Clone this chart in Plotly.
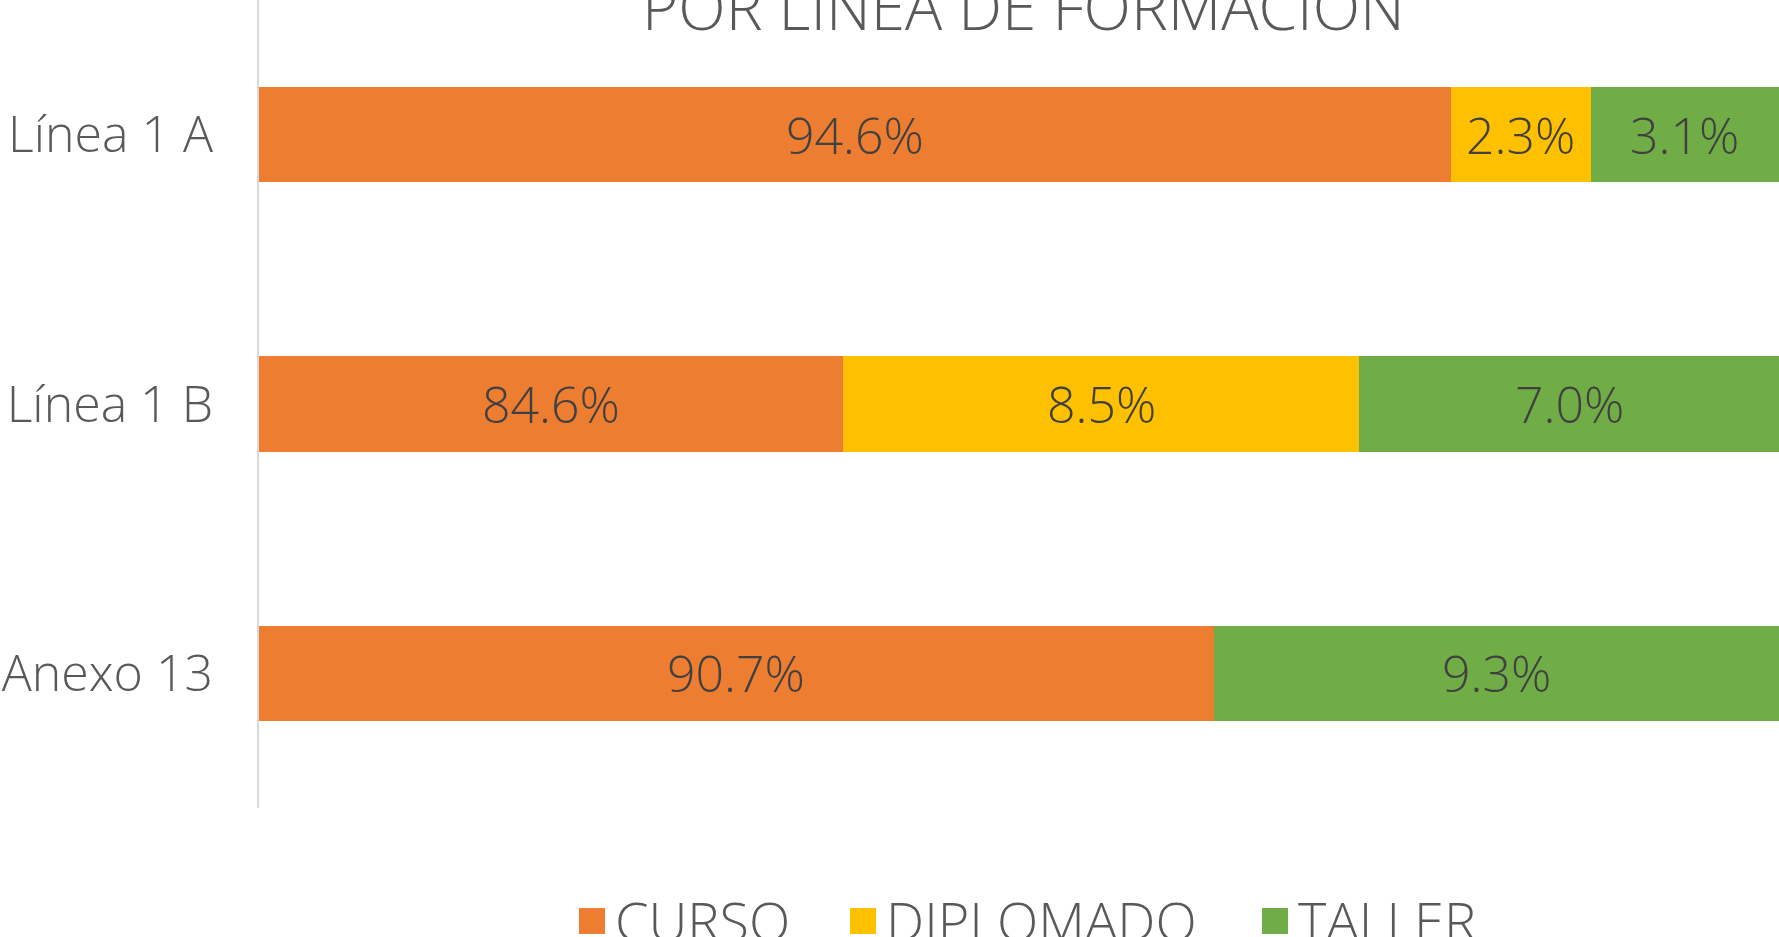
import plotly.graph_objects as go

# ---------------- data ----------------
categories = ["Línea 1 A", "Línea 1 B", "Anexo 13"]
curso = [94.6, 84.6, 90.7]
diplomado = [2.3, 8.5, 0.0]
taller = [3.1, 7.0, 9.3]
series_names = ["CURSO", "DIPLOMADO", "TALLER"]
series_colors = ["#ED7D31", "#FFC000", "#70AD47"]
x_range = [75, 100]
title_text = "POR LÍNEA DE FORMACIÓN"

series_values = [curso, diplomado, taller]

FONT = "Open Sans"
WEIGHT = 300
W, H = 1779, 937
ML, MR, MT, MB = 259, 0, 0, 129
PW, PH = W - ML - MR, H - MT - MB

fig = go.Figure()

# stacked bars
for name, vals, col in zip(series_names, series_values, series_colors):
    fig.add_trace(go.Bar(
        y=categories, x=vals, name=name, orientation="h",
        marker=dict(color=col, line=dict(width=0)),
        showlegend=False, hoverinfo="x+name",
    ))

def px_to_paper_x(px):
    return (px - ML) / PW

def px_to_paper_y(py):
    return (MT + PH - py) / PH

annotations = []
shapes = []

# data labels centred on the visible part of each segment
for i, cat in enumerate(categories):
    start = 0.0
    for vals in series_values:
        v = vals[i]
        end = start + v
        if v > 0:
            vs = max(start, x_range[0])
            ve = min(end, x_range[1])
            annotations.append(dict(
                x=(vs + ve) / 2, y=cat, xref="x", yref="y",
                text=f"{v:.1f}%", showarrow=False,
                xanchor="center", yanchor="middle", yshift=0,
                font=dict(family=FONT, size=50, color="#404040", weight=WEIGHT),
            ))
        start = end

# title (top clipped as in reference)
annotations.append(dict(
    text=title_text, xref="paper", yref="paper",
    x=px_to_paper_x(1023), y=px_to_paper_y(6),
    xanchor="center", yanchor="middle", showarrow=False,
    font=dict(family=FONT, size=62, color="#595959", weight=WEIGHT),
))

# custom legend
leg_marker_x = [579, 850, 1262]
for name, col, mx in zip(series_names, series_colors, leg_marker_x):
    shapes.append(dict(
        type="rect", xref="paper", yref="paper",
        x0=px_to_paper_x(mx), x1=px_to_paper_x(mx + 26),
        y0=px_to_paper_y(934), y1=px_to_paper_y(908),
        fillcolor=col, line=dict(width=0),
    ))
    annotations.append(dict(
        text=name, xref="paper", yref="paper",
        x=px_to_paper_x(mx + 34), y=px_to_paper_y(920),
        xanchor="left", yanchor="middle", showarrow=False,
        font=dict(family=FONT, size=54, color="#595959", weight=WEIGHT),
    ))

fig.update_layout(
    width=W, height=H,
    margin=dict(l=ML, r=MR, t=MT, b=MB, pad=0),
    barmode="stack", bargap=0.647,
    paper_bgcolor="white", plot_bgcolor="white",
    font=dict(family=FONT, color="#595959"),
    annotations=annotations, shapes=shapes,
    xaxis=dict(range=x_range, showgrid=False, zeroline=False,
               showticklabels=False, showline=False, fixedrange=True),
    yaxis=dict(type="category", autorange="reversed", showgrid=False,
               showline=True, linecolor="#D9D9D9", linewidth=2,
               ticks="", ticklabelstandoff=34,
               tickfont=dict(family=FONT, size=50, color="#595959", weight=WEIGHT)),
)

fig.write_html(
    "out.html",
    config={"displayModeBar": False},
    post_script="document.body.style.margin='0';document.body.style.overflow='hidden';",
)
